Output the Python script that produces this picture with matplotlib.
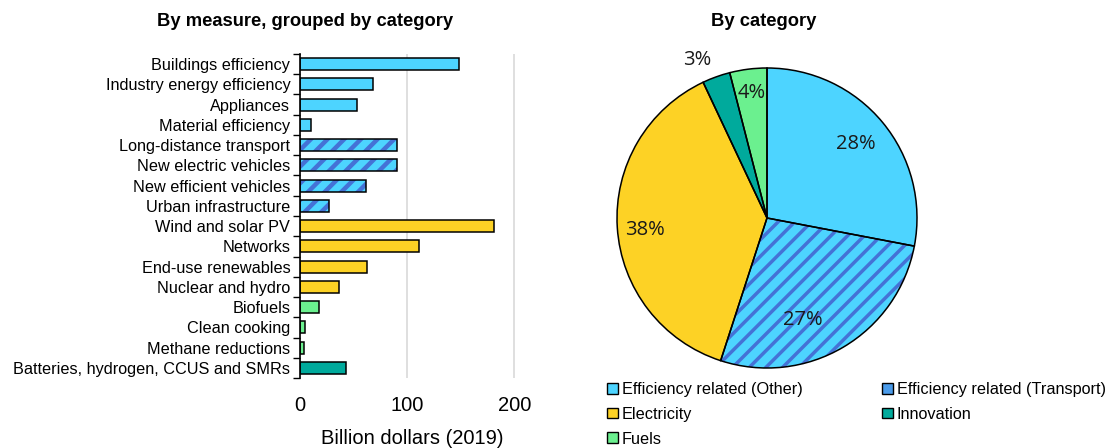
import numpy as np
import matplotlib.pyplot as plt
from matplotlib.patches import Patch

plt.rcParams['font.family'] = ['Liberation Sans', 'DejaVu Sans']
plt.rcParams['hatch.linewidth'] = 3.0

# spending by measure, billion USD (2019)
measures = ['Buildings efficiency', 'Industry energy efficiency', 'Appliances', 'Material efficiency',
            'Long-distance transport', 'New electric vehicles', 'New efficient vehicles', 'Urban infrastructure',
            'Wind and solar PV', 'Networks', 'End-use renewables', 'Nuclear and hydro',
            'Biofuels', 'Clean cooking', 'Methane reductions', 'Batteries, hydrogen, CCUS and SMRs']
spend = [148, 68.5, 53, 10.5, 91, 91, 62, 27, 181, 111, 63, 36, 18, 4.7, 3.7, 43]
group = ['other'] * 4 + ['transport'] * 4 + ['elec'] * 4 + ['fuels'] * 3 + ['innov']

# shares by category (%)
pie_groups = ['other', 'transport', 'elec', 'innov', 'fuels']
pie_shares = [28, 27, 38, 3, 4]

names = {'other': 'Efficiency related (Other)', 'transport': 'Efficiency related (Transport)',
         'elec': 'Electricity', 'innov': 'Innovation', 'fuels': 'Fuels'}
fill = {'other': '#4DD4FF', 'transport': '#4DD4FF', 'elec': '#FDD225',
        'innov': '#00AA9C', 'fuels': '#6BF08F'}
stripe = '#4472D6'


def stripe_patch(p, pattern, lw):
    p.set_hatch(pattern)
    p.set_edgecolor(stripe)
    if hasattr(p, 'set_hatch_linewidth'):
        p.set_hatch_linewidth(lw)


fig = plt.figure(figsize=(11.09, 4.48), dpi=100)

# --- bar chart ---
ax = fig.add_axes([300 / 1109, 70 / 448, 225 / 1109, 324 / 448])
ypos = list(range(len(measures)))
bars = ax.barh(ypos, spend, height=0.6, color=[fill[g] for g in group], linewidth=0, zorder=2)
for b, g in zip(bars, group):
    if g == 'transport':
        stripe_patch(b, '//', 3.2)
ax.barh(ypos, spend, height=0.6, fill=False, edgecolor='black', linewidth=1.1, zorder=3)

ax.set_ylim(len(measures) - 0.5, -0.5)
ax.set_xlim(0, 210)
ax.set_yticks(ypos)
ax.set_yticklabels(measures, fontsize=11.7)
ax.set_yticks([i - 0.5 for i in range(len(measures) + 1)], minor=True)
ax.tick_params(axis='y', which='major', length=0, pad=7)
ax.tick_params(axis='y', which='minor', length=5, width=1)
ax.set_xticks([0, 100, 200])
ax.tick_params(axis='x', length=0, labelsize=14.5, pad=13)
ax.set_xlabel('Billion dollars (2019)', fontsize=14.5, labelpad=10)
ax.grid(axis='x', color='#D9D9D9', linewidth=1.2, zorder=0)
for s in ['top', 'right', 'bottom']:
    ax.spines[s].set_visible(False)
ax.spines['left'].set_linewidth(1.2)
fig.text(305 / 1109, 1 - 22 / 448, 'By measure, grouped by category', ha='center', va='center',
         fontsize=13.2, fontweight='bold')

# --- pie chart ---
pax = fig.add_axes([617 / 1109, 80 / 448, 300 / 1109, 300 / 448])
wedges, _ = pax.pie(pie_shares, colors=[fill[g] for g in pie_groups], startangle=90,
                    counterclock=False, wedgeprops=dict(linewidth=0))
for w, g in zip(wedges, pie_groups):
    if g == 'transport':
        stripe_patch(w, '//', 2.5)
pax.pie(pie_shares, startangle=90, counterclock=False,
        wedgeprops=dict(fill=False, edgecolor='black', linewidth=1.1))
pax.set_xlim(-1, 1)
pax.set_ylim(-1, 1)
pax.set_aspect('equal')

# percentage labels: radius and angle shift per slice
lab_r = [0.77, 0.72, 0.82, 1.15, 0.84]
lab_shift = [0, -11, 2, 4, 0]
for w, share, r, d in zip(wedges, pie_shares, lab_r, lab_shift):
    mid = np.deg2rad((w.theta1 + w.theta2) / 2 + d)
    pax.text(r * np.cos(mid), r * np.sin(mid), f'{share}%', ha='center', va='center',
             fontsize=14.5, family=['Open Sans', 'DejaVu Sans'], color='#1A1A1A', clip_on=False)
fig.text(764 / 1109, 1 - 22 / 448, 'By category', ha='center', va='center',
         fontsize=13.2, fontweight='bold')

# legend, filled column by column so it reads row by row
order = ['other', 'elec', 'fuels', 'transport', 'innov']
handles = [Patch(facecolor=fill[g], edgecolor='black', linewidth=1, label=names[g]) for g in order]
leg = fig.legend(handles=handles, ncol=2, loc='upper left', bbox_to_anchor=(607 / 1109, 1 - 382 / 448),
                 frameon=False, fontsize=11.7, handlelength=0.65, handleheight=0.65, handletextpad=0.25,
                 labelspacing=0.6, columnspacing=4.9, borderaxespad=0, borderpad=0)
leg.legend_handles[3].set_facecolor('#4A9BEA')

fig.savefig('out.png', dpi=100)
